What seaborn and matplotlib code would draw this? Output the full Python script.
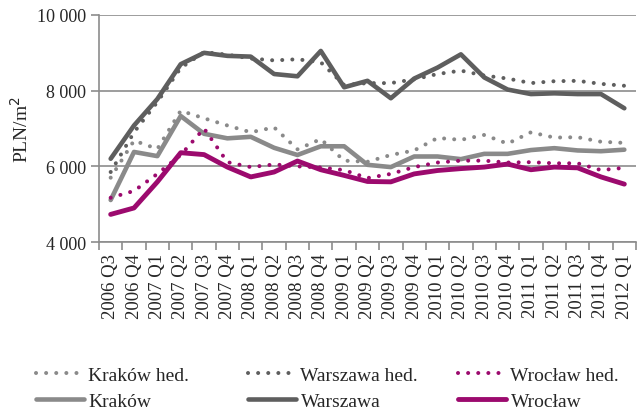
import numpy as np
import pandas as pd
import matplotlib
matplotlib.use("Agg")
import matplotlib.pyplot as plt
import seaborn as sns
from matplotlib.ticker import FuncFormatter, FixedLocator

categories = ["2006 Q3", "2006 Q4", "2007 Q1", "2007 Q2", "2007 Q3", "2007 Q4",
              "2008 Q1", "2008 Q2", "2008 Q3", "2008 Q4", "2009 Q1", "2009 Q2",
              "2009 Q3", "2009 Q4", "2010 Q1", "2010 Q2", "2010 Q3", "2010 Q4",
              "2011 Q1", "2011 Q2", "2011 Q3", "2011 Q4", "2012 Q1"]

krakow_hed = [5700, 6680, 6460, 7470, 7270, 7080, 6900, 7030, 6450, 6720, 6150, 6120,
              6300, 6420, 6750, 6700, 6830, 6600, 6900, 6760, 6770, 6650, 6620]
warszawa_hed = [5850, 6900, 7700, 8600, 9020, 8950, 8850, 8800, 8830, 8750, 8150, 8200,
                8200, 8300, 8440, 8530, 8400, 8320, 8200, 8250, 8260, 8180, 8130]
wroclaw_hed = [5170, 5350, 5800, 6300, 7000, 6110, 5980, 6050, 6000, 5970, 5900, 5690,
               5800, 5980, 6100, 6150, 6150, 6100, 6110, 6080, 6080, 5900, 5960]
krakow = [5110, 6380, 6270, 7330, 6860, 6740, 6780, 6490, 6300, 6530, 6530, 6040,
          5980, 6260, 6260, 6190, 6330, 6330, 6430, 6480, 6420, 6400, 6440]
warszawa = [6200, 7080, 7780, 8700, 9000, 8920, 8900, 8440, 8380, 9050, 8090, 8260,
            7800, 8320, 8610, 8960, 8350, 8030, 7910, 7930, 7910, 7910, 7535]
wroclaw = [4730, 4900, 5590, 6360, 6310, 5980, 5720, 5850, 6140, 5910, 5760, 5600,
           5590, 5800, 5890, 5940, 5980, 6060, 5910, 5980, 5960, 5720, 5530]

y_ticks = [4000, 6000, 8000, 10000]

sns.set_theme(style="white")
plt.rcParams['font.family'] = ['Liberation Serif', 'DejaVu Serif']
plt.rcParams['font.size'] = 13

c_krk = "#8a8a8a"
c_waw = "#5e5e5e"
c_wro = "#9c0a6e"
grid_c = "#8c8c8c"

W, H = 638, 414
fig = plt.figure(figsize=(W / 100, H / 100), dpi=100)
ax = fig.add_axes([99 / W, 1 - 243 / H, (636 - 99) / W, (243 - 16) / H])

x = np.arange(len(categories))
dot = (0, (0.01, 2.5))

series = [
    ("Kraków hed.", krakow_hed, c_krk, dot, 2.9),
    ("Kraków", krakow, c_krk, "-", 3.3),
    ("Warszawa hed.", warszawa_hed, c_waw, dot, 2.9),
    ("Warszawa", warszawa, c_waw, "-", 3.3),
    ("Wrocław hed.", wroclaw_hed, c_wro, dot, 2.9),
    ("Wrocław", wroclaw, c_wro, "-", 3.5),
]

# draw solids first, dotted on top
order = [1, 3, 5, 0, 2, 4]
lines = {}
for i in order:
    name, vals, col, ls, lw = series[i]
    df = pd.DataFrame({"x": x, "y": vals})
    n_before = len(ax.lines)
    sns.lineplot(data=df, x="x", y="y", ax=ax, color=col, linewidth=lw,
                 linestyle=ls, label=name, legend=False)
    ln = ax.lines[n_before]
    ln.set_dash_capstyle("round")
    ln.set_solid_capstyle("round")
    ln.set_solid_joinstyle("round")
    lines[name] = ln

ax.set_xlim(-0.5, len(categories) - 0.5)
ax.set_ylim(4000, 10000)
ax.set_yticks(y_ticks)
ax.yaxis.set_major_formatter(FuncFormatter(lambda v, p: f"{int(v):,}".replace(",", " ")))
ax.yaxis.grid(True, color=grid_c, linewidth=1.2)
ax.set_axisbelow(True)

ax.set_xticks(x)
ax.set_xticklabels(categories, rotation=90)
ax.tick_params(axis="x", which="major", length=0, pad=8, labelsize=13.5)
ax.xaxis.set_minor_locator(FixedLocator(np.arange(-0.5, len(categories), 1.0)))
ax.tick_params(axis="x", which="minor", length=6, width=1.2, color=grid_c, bottom=True)
ax.tick_params(axis="y", which="major", length=6, width=1.2, color=grid_c, left=True, pad=3,
               labelsize=13)

for s in ["top", "right"]:
    ax.spines[s].set_visible(False)
for s in ["left", "bottom"]:
    ax.spines[s].set_color(grid_c)
    ax.spines[s].set_linewidth(1.2)

ax.set_xlabel("")
ax.set_ylabel("PLN/m$^2$", fontsize=14, labelpad=4)

groups = [["Kraków hed.", "Kraków"], ["Warszawa hed.", "Warszawa"], ["Wrocław hed.", "Wrocław"]]
starts = [36, 248, 458]
for names, xs in zip(groups, starts):
    fs = 14
    px = fs * 100 / 72
    leg = fig.legend([lines[n] for n in names], names, loc="center left",
                     bbox_to_anchor=((xs - 0.4 * px) / W, 1 - 389 / H),
                     borderaxespad=0, frameon=False, fontsize=fs,
                     handlelength=2.45, handletextpad=0.25, labelspacing=0.45,
                     borderpad=0.4)

fig.savefig("out.png", dpi=100)
